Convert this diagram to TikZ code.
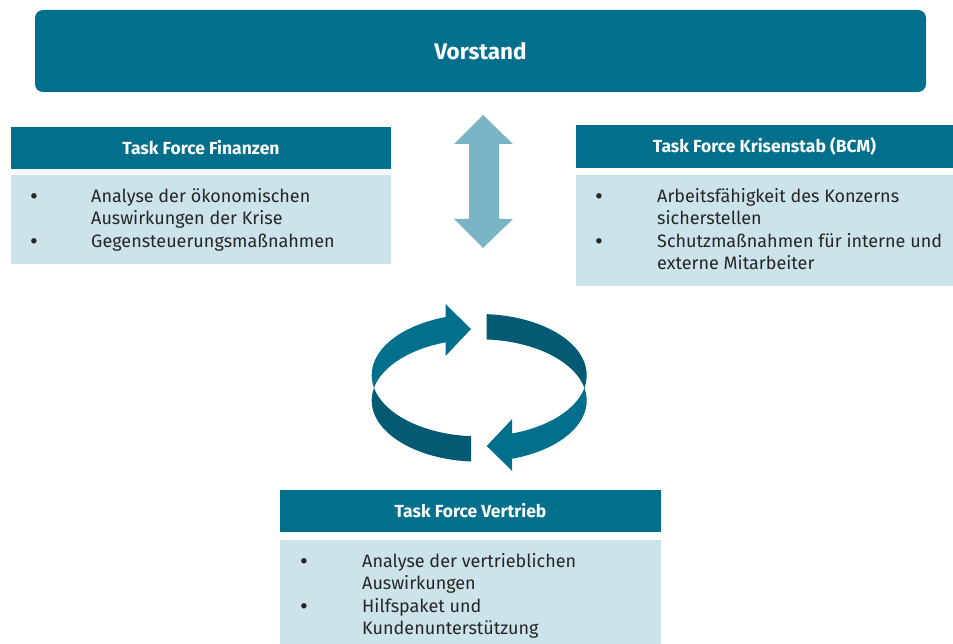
\documentclass[tikz,border=0pt]{standalone}
\usepackage{fontspec}
\setmainfont{Fira Sans}
\definecolor{tfteal}{RGB}{2,112,140}
\definecolor{tfdark}{RGB}{4,90,115}
\definecolor{tflight}{RGB}{204,227,233}
\definecolor{tfarrow}{RGB}{122,181,198}
\definecolor{tftext}{RGB}{38,38,38}
\begin{document}
\begin{tikzpicture}[x=1pt,y=-1pt,
  header/.style={fill=tfteal, text=white, font=\bfseries\fontsize{17.5}{20}\selectfont, inner sep=0pt, minimum height=42pt},
  bodybox/.style={fill=tflight, inner sep=0pt},
  bul/.style={anchor=base, text=tftext, font=\fontsize{24}{22}\selectfont, inner sep=0pt},
  itm/.style={anchor=base west, text=tftext, font=\fontsize{18}{22}\selectfont, inner sep=0pt}]
\useasboundingbox (0,0) rectangle (953,644);
% Vorstand
\node[fill=tfteal, rounded corners=8pt, minimum width=891pt, minimum height=82pt, inner sep=0pt,
      text=white, font=\bfseries\fontsize{22.5}{26}\selectfont] (vorstand) at (480.5,51) {Vorstand};
% Task Force Finanzen
\node[header, minimum width=380pt] (finH) at (201,148) {Task Force Finanzen};
\node[bodybox, minimum width=380pt, minimum height=89pt] (finB) at (201,219.5) {};
\node[bul] (finb1) at (34,205) {•};
\node[itm] (fin1) at (91,203) {Analyse der ökonomischen};
\node[itm] (fin2) at (91,225) {Auswirkungen der Krise};
\node[bul] (finb2) at (34,250) {•};
\node[itm] (fin3) at (91,248) {Gegensteuerungsmaßnahmen};
% Task Force Krisenstab
\node[header, minimum width=377pt, minimum height=43pt] (kriH) at (764.5,146.5) {Task Force Krisenstab (BCM)};
\node[bodybox, minimum width=377pt, minimum height=111pt] (kriB) at (764.5,230.5) {};
\node[bul] (krib1) at (599,205) {•};
\node[itm] (kri1) at (657,203) {Arbeitsfähigkeit des Konzerns};
\node[itm] (kri2) at (657,225) {sicherstellen};
\node[bul] (krib2) at (599,250) {•};
\node[itm] (kri3) at (657,248) {Schutzmaßnahmen für interne und};
\node[itm] (kri4) at (657,270) {externe Mitarbeiter};
% Task Force Vertrieb
\node[header, minimum width=381pt] (verH) at (470.5,511) {Task Force Vertrieb};
\node[bodybox, minimum width=381pt, minimum height=104pt] (verB) at (470.5,592) {};
\node[bul] (verb1) at (304,569) {•};
\node[itm] (ver1) at (362,567) {Analyse der vertrieblichen};
\node[itm] (ver2) at (362,589) {Auswirkungen};
\node[bul] (verb2) at (304,614) {•};
\node[itm] (ver3) at (362,612) {Hilfspaket und};
\node[itm] (ver4) at (362,634) {Kundenunterstützung};
% double arrow
\fill[tfarrow] (483,115) -- (513,144) -- (499,144) -- (499,219) -- (513,219) -- (483,248)
  -- (454,219) -- (469,219) -- (469,144) -- (454,144) -- cycle;
% cycle ring
\def\ringpath{(479.2,375.2) ellipse [x radius=107.5, y radius=61.2] (479.2,400.5) ellipse [x radius=107.5, y radius=61.2]}
\begin{scope}
  \clip (360,300) rectangle (446,387.85);
  \fill[tfteal, even odd rule] \ringpath;
\end{scope}
\fill[tfteal] (445.5,304) -- (471,329) -- (445.5,356) -- cycle;
\begin{scope}
  \clip (486.7,300) rectangle (600,387.85);
  \fill[tfdark, even odd rule] \ringpath;
\end{scope}
\begin{scope}
  \clip (360,387.85) rectangle (471,480);
  \fill[tfdark, even odd rule] \ringpath;
\end{scope}
\begin{scope}
  \clip (511.7,387.85) rectangle (600,480);
  \fill[tfteal, even odd rule] \ringpath;
\end{scope}
\fill[tfteal] (512.2,419) -- (486.7,446) -- (512.2,471) -- cycle;
\end{tikzpicture}
\end{document}
